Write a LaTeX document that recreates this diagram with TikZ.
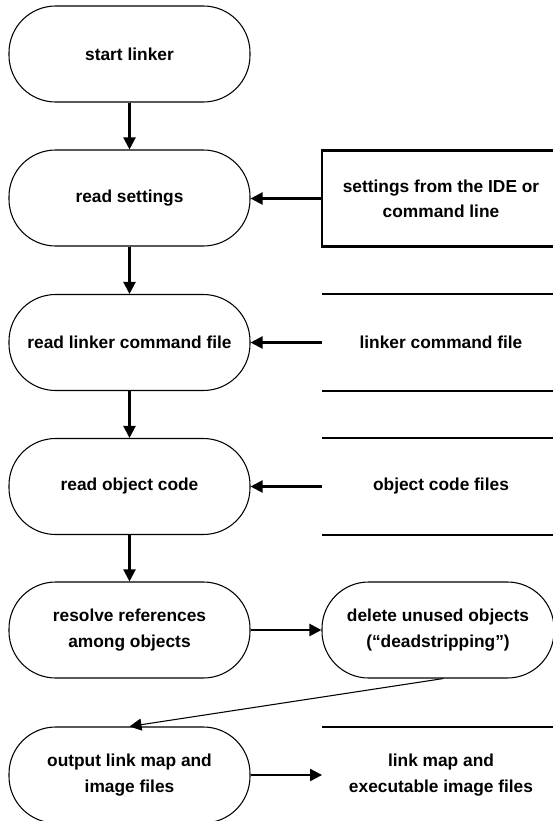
\documentclass[tikz,border=0pt]{standalone}
\usepackage{fontspec}
\setmainfont{Liberation Sans}
\usetikzlibrary{arrows.meta}
\begin{document}
\begin{tikzpicture}[x=0.75pt,y=-0.75pt,
  term/.style={draw,line width=0.8pt,rounded corners=35pt,minimum width=180.75pt,minimum height=72pt,align=center,inner sep=0pt,font=\fontsize{13}{19}\selectfont\bfseries},
  src/.style={draw,line width=1.6pt,minimum width=178pt,minimum height=72pt,align=center,inner sep=0pt,font=\fontsize{13}{19}\selectfont\bfseries},
  store/.style={minimum width=178pt,minimum height=72pt,align=center,inner sep=0pt,font=\fontsize{13}{19}\selectfont\bfseries},
  stline/.style={line width=1.6pt},
  arr/.style={line width=1.6pt,-{Triangle[length=9pt,width=9pt]}},
  thinarr/.style={line width=0.8pt,-{Triangle[length=9pt,width=9pt]}}]
\useasboundingbox (0,0) rectangle (553,821);
% main column
\node[term] (start) at (129.5,54) {start linker};
\node[term] (rs) at (129.5,198) {read settings};
\node[term] (rl) at (129.5,342.5) {read linker command file};
\node[term] (ro) at (129.5,486.5) {read object code};
\node[term] (rr) at (129.5,630) {resolve references\\among objects};
\node[term] (out) at (129.5,775) {output link map and\\image files};
\node[term,minimum width=174pt] (del) at (438,630) {delete unused objects\\(“deadstripping”)};
% sources
\node[src] (set) at (441,198.5) {settings from the IDE or\\command line};
\node[store] (lcf) at (441,342.5) {linker command file};
\node[store] (ocf) at (441,486.5) {object code files};
\node[store] (lm) at (441,775) {link map and\\executable image files};
\draw[stline] (lcf.north west) -- (lcf.north east) (lcf.south west) -- (lcf.south east);
\draw[stline] (ocf.north west) -- (ocf.north east) (ocf.south west) -- (ocf.south east);
\draw[stline] (lm.north west) -- (lm.north east) (lm.south west) -- (lm.south east);
% connectors
\draw[arr] (start) -- (rs);
\draw[arr] (rs) -- (rl);
\draw[arr] (rl) -- (ro);
\draw[arr] (ro) -- (rr);
\draw[arr] (set.west) -- (rs.east |- set.west);
\draw[arr] (lcf.west) -- (rl.east);
\draw[arr] (ocf.west) -- (ro.east);
\draw[arr] (rr) -- (del);
\coordinate (dstart) at ([xshift=4pt]del.south);
\draw[thinarr] (dstart) -- (out.north);
\draw[arr] (out.east) -- (lm.west);
\end{tikzpicture}
\end{document}
